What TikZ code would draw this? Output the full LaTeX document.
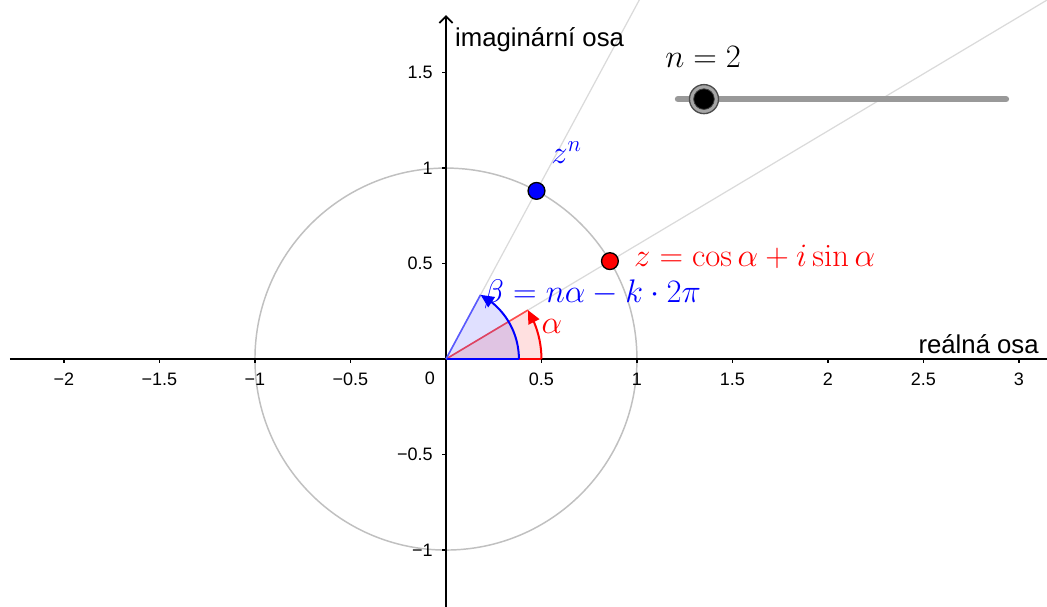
\RequirePackage{fix-cm}
\documentclass[tikz,border=0pt]{standalone}
\usepackage{amsmath,amssymb}
\usepackage{fontspec}
\usepackage{tikz}
\usetikzlibrary{calc,arrows.meta,bending}
\newfontfamily\axisfont{Liberation Sans}
\definecolor{ggbRed}{RGB}{255,0,0}
\definecolor{ggbBlue}{RGB}{0,0,255}
\definecolor{circleGray}{RGB}{192,192,192}
\definecolor{rayGray}{RGB}{218,218,218}
\definecolor{sliderGray}{RGB}{153,153,153}

\begin{document}
\begin{tikzpicture}[x=143.25pt, y=143.25pt,
    ticklabel/.style={font=\axisfont\fontsize{13.5}{16}\selectfont, inner sep=0pt},
    axislabel/.style={font=\axisfont\fontsize{19.3}{23}\selectfont, inner sep=0pt},
    mathlabel/.style={font=\fontsize{24.5}{29}\selectfont, inner sep=0pt}]
    \clip (-2.335,-1.298) rectangle (3.147,1.880);
    \fill[white] (-2.335,-1.298) rectangle (3.147,1.880);

    \coordinate (O) at (0,0);
    \coordinate (Z) at (30.85:1);
    \coordinate (Zn) at (61.7:1);

    % rays through z and z^n
    \draw[rayGray, line width=0.9pt] (O) -- (30.85:4);
    \draw[rayGray, line width=0.9pt] (O) -- (61.7:4);

    % unit circle
    \draw[circleGray, line width=1.1pt] (O) circle[radius=1];

    % axes
    \draw[line width=1.3pt] (-2.283,0) -- (3.3,0);
    \draw[line width=1.3pt, -{Straight Barb[length=5pt,width=10pt]}] (0,-1.4) -- (0,1.801);
    \foreach \v in {-2,-1.5,-1,-0.5,0.5,1,1.5,2,2.5,3}
        \draw[line width=1pt] (\v,0) -- (\v,-0.022);
    \foreach \v in {-1,-0.5,0.5,1,1.5}
        \draw[line width=1pt] (0,\v) -- (-0.022,\v);

    % tick labels
    \foreach \v/\t [count=\k] in {-2/−2,-1.5/−1.5,-1/−1,-0.5/−0.5,0.5/0.5,1/1,1.5/1.5,2/2,2.5/2.5,3/3}
        \node[ticklabel] (xl\k) at (\v,-0.105) {\t};
    \foreach \v/\t [count=\k] in {-1/−1,-0.5/−0.5,0.5/0.5,1/1,1.5/1.5}
        \node[ticklabel, anchor=east] (yl\k) at (-0.068,\v) {\t};
    \node[ticklabel] (zero) at (-0.084,-0.1) {0};

    \node[axislabel, anchor=base west] (imlabel) at (0.047,1.634) {imaginární osa};
    \node[axislabel, anchor=base east] (relabel) at (3.105,0.031) {reálná osa};

    % angle alpha
    \fill[ggbRed, opacity=0.12] (O) -- (0.5,0) arc[start angle=0, end angle=30.85, radius=0.5] -- cycle;
    \draw[ggbRed, line width=1.5pt] (O) -- (0.5,0);
    \draw[ggbRed!70, line width=1.2pt] (O) -- (30.85:0.5);
    \draw[ggbRed, line width=1.5pt, -{Triangle[length=10pt,width=9pt]}]
        (0.5,0) arc[start angle=0, end angle=30.85, radius=0.5];

    % angle beta
    \fill[ggbBlue, opacity=0.12] (O) -- (0.382,0) arc[start angle=0, end angle=61.7, radius=0.382] -- cycle;
    \draw[ggbBlue, line width=1.5pt] (O) -- (0.382,0);
    \draw[ggbBlue!65, line width=1.2pt] (O) -- (61.7:0.382);
    \draw[ggbBlue, line width=1.5pt, -{Triangle[length=10pt,width=9pt]}]
        (0.382,0) arc[start angle=0, end angle=61.7, radius=0.382];

    % points
    \filldraw[fill=ggbBlue, draw=black, line width=1pt] (Zn) circle[radius=0.044];
    \filldraw[fill=ggbRed, draw=black, line width=1pt] (Z) circle[radius=0.044];

    % labels
    \node[mathlabel, text=ggbBlue, anchor=base west] (znlabel) at (0.550,1.026) {$z^n$};
    \node[mathlabel, text=ggbRed, anchor=base west] (zlabel) at (0.984,0.484) {$z=\cos\alpha+i\sin\alpha$};
    \node[mathlabel, text=ggbBlue, anchor=base west] (betalabel) at (0.199,0.295) {$\beta=n\alpha-k\cdot 2\pi$};
    \node[mathlabel, text=ggbRed, anchor=base] (alphalabel) at (0.555,0.135) {$\alpha$};

    % slider n
    \coordinate (S1) at (1.215,1.361);
    \coordinate (S2) at (2.932,1.361);
    \coordinate (K) at (1.351,1.361);
    \draw[sliderGray, line width=4.8pt, line cap=round] (S1) -- (S2);
    \filldraw[fill=gray!70, draw=gray!60!black, line width=1pt] (K) circle[radius=0.076];
    \filldraw[fill=black, draw=gray!50!black, line width=0.6pt] (K) circle[radius=0.054];
    \node[mathlabel, anchor=base west] (nlabel) at (1.147,1.526) {$n=2$};
\end{tikzpicture}
\end{document}
